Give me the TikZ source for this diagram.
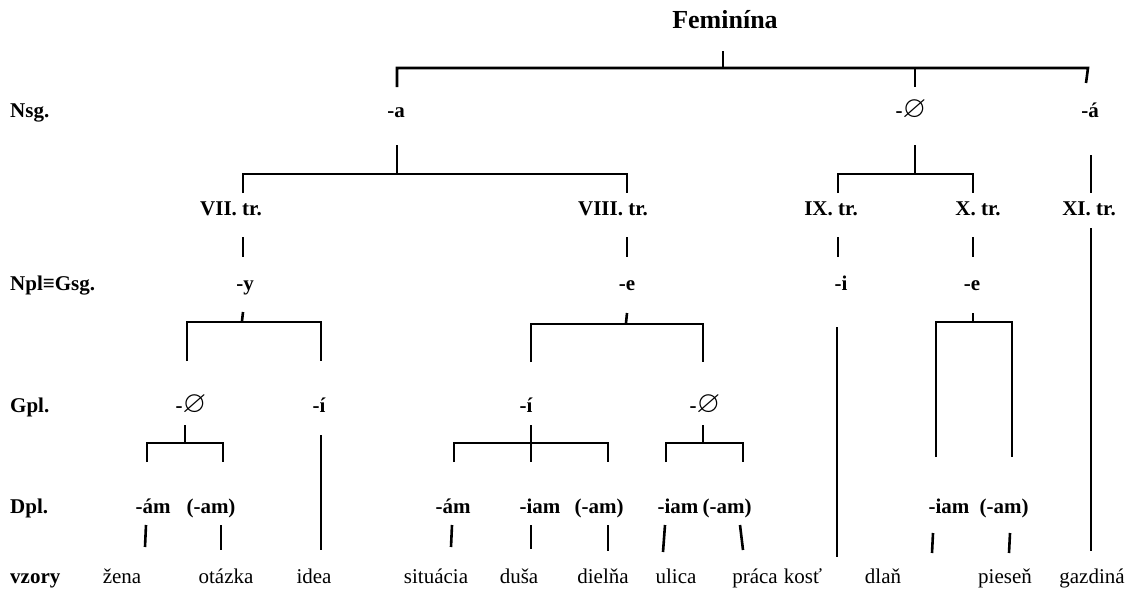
\documentclass[tikz,border=0pt]{standalone}
\usepackage{amssymb}
\usepackage{graphicx}
\usepackage{fontspec}
\setmainfont{Liberation Serif}
\newcommand{\nullend}{-\raisebox{-0.5pt}{\scalebox{1.45}{$\varnothing$}}}
\begin{document}
\begin{tikzpicture}[x=1pt,y=-1pt,
  lab/.style={anchor=base,inner sep=0pt,font=\fontsize{21}{24}\selectfont\bfseries},
  rowlab/.style={anchor=base west,inner sep=0pt,font=\fontsize{21}{24}\selectfont\bfseries},
  word/.style={anchor=base,inner sep=0pt,font=\fontsize{21}{24}\selectfont},
  ln/.style={line width=2.6pt}]
\useasboundingbox (0,0) rectangle (1139,589);
% title
\node[anchor=base,inner sep=0pt,font=\fontsize{26}{30}\selectfont\bfseries] (root) at (725,28) {Feminína};
% row labels
\node[rowlab] (rNsg) at (10,117) {Nsg.};
\node[rowlab] (rNpl) at (10,290) {Npl≡Gsg.};
\node[rowlab] (rGpl) at (10,412) {Gpl.};
\node[rowlab] (rDpl) at (10,513) {Dpl.};
\node[rowlab] (rvz) at (10,583) {vzory};
% Nsg
\node[lab] (na) at (396,117) {-a};
\node[lab] (nz) at (911,117) {\nullend};
\node[lab] (naa) at (1090,117) {-á};
% tr
\node[lab] (t7) at (231,215) {VII. tr.};
\node[lab] (t8) at (613,215) {VIII. tr.};
\node[lab] (t9) at (831,215) {IX. tr.};
\node[lab] (t10) at (978,215) {X. tr.};
\node[lab] (t11) at (1089,215) {XI. tr.};
% Npl
\node[lab] (py) at (245,290) {-y};
\node[lab] (pe) at (627,290) {-e};
\node[lab] (pi) at (841,290) {-i};
\node[lab] (pe2) at (972,290) {-e};
% Gpl
\node[lab] (g1) at (191,412) {\nullend};
\node[lab] (g2) at (319,412) {-í};
\node[lab] (g3) at (526,412) {-í};
\node[lab] (g4) at (705,412) {\nullend};
% Dpl
\node[lab] (d1) at (153,513) {-ám};
\node[lab] (d2) at (211,513) {(-am)};
\node[lab] (d3) at (453,513) {-ám};
\node[lab] (d4) at (540,513) {-iam};
\node[lab] (d5) at (599,513) {(-am)};
\node[lab] (d6) at (678,513) {-iam};
\node[lab] (d7) at (727,513) {(-am)};
\node[lab] (d8) at (949,513) {-iam};
\node[lab] (d9) at (1004,513) {(-am)};
% words
\node[word] (w1) at (122,583) {žena};
\node[word] (w2) at (226,583) {otázka};
\node[word] (w3) at (314,583) {idea};
\node[word] (w4) at (436,583) {situácia};
\node[word] (w5) at (519,583) {duša};
\node[word] (w6) at (603,583) {dielňa};
\node[word] (w7) at (676,583) {ulica};
\node[word] (w8) at (755,583) {práca};
\node[word] (w9) at (803,583) {kosť};
\node[word] (w10) at (883,583) {dlaň};
\node[word] (w11) at (1005,583) {pieseň};
\node[word] (w12) at (1092,583) {gazdiná};
% connectors
\draw[ln] (723,51) -- (723,68);
\draw[ln] (397,87) -- (397,68) -- (1088,68) -- (1086,83);
\draw[ln] (915,68) -- (915,87);
\draw[ln] (397,145) -- (397,174);
\draw[ln] (243,193) -- (243,174) -- (627,174) -- (627,193);
\draw[ln] (915,145) -- (915,174);
\draw[ln] (838,193) -- (838,174) -- (973,174) -- (973,193);
\draw[ln] (1091,155) -- (1091,193);
\draw[ln] (243,237) -- (243,257);
\draw[ln] (627,237) -- (627,257);
\draw[ln] (838,237) -- (838,257);
\draw[ln] (973,237) -- (973,257);
\draw[ln] (1091,228) -- (1091,551);
% under -y
\draw[ln] (243,312) -- (242,321);
\draw[ln] (187,361) -- (187,322) -- (321,322) -- (321,361);
% under -e (VIII)
\draw[ln] (627,313) -- (626,323);
\draw[ln] (531,362) -- (531,324) -- (703,324) -- (703,362);
% under -i (IX)
\draw[ln] (837,327) -- (837,557);
% under -e (X)
\draw[ln] (973,313) -- (973,322);
\draw[ln] (936,457) -- (936,322) -- (1012,322) -- (1012,457);
% Gpl
\draw[ln] (185,425) -- (185,443);
\draw[ln] (147,462) -- (147,443) -- (223,443) -- (223,462);
\draw[ln] (321,435) -- (321,550);
\draw[ln] (531,425) -- (531,462);
\draw[ln] (454,462) -- (454,443) -- (608,443) -- (608,462);
\draw[ln] (703,425) -- (703,443);
\draw[ln] (666,462) -- (666,443) -- (743,443) -- (743,462);
% Dpl stubs
\draw[ln] (146,525) -- (145,547);
\draw[ln] (221,525) -- (221,550);
\draw[ln] (452,525) -- (451,547);
\draw[ln] (531,525) -- (531,549);
\draw[ln] (608,525) -- (608,551);
\draw[ln] (665,525) -- (663,552);
\draw[ln] (740,525) -- (743,550);
\draw[ln] (933,533) -- (932,553);
\draw[ln] (1010,533) -- (1009,553);
\end{tikzpicture}
\end{document}
